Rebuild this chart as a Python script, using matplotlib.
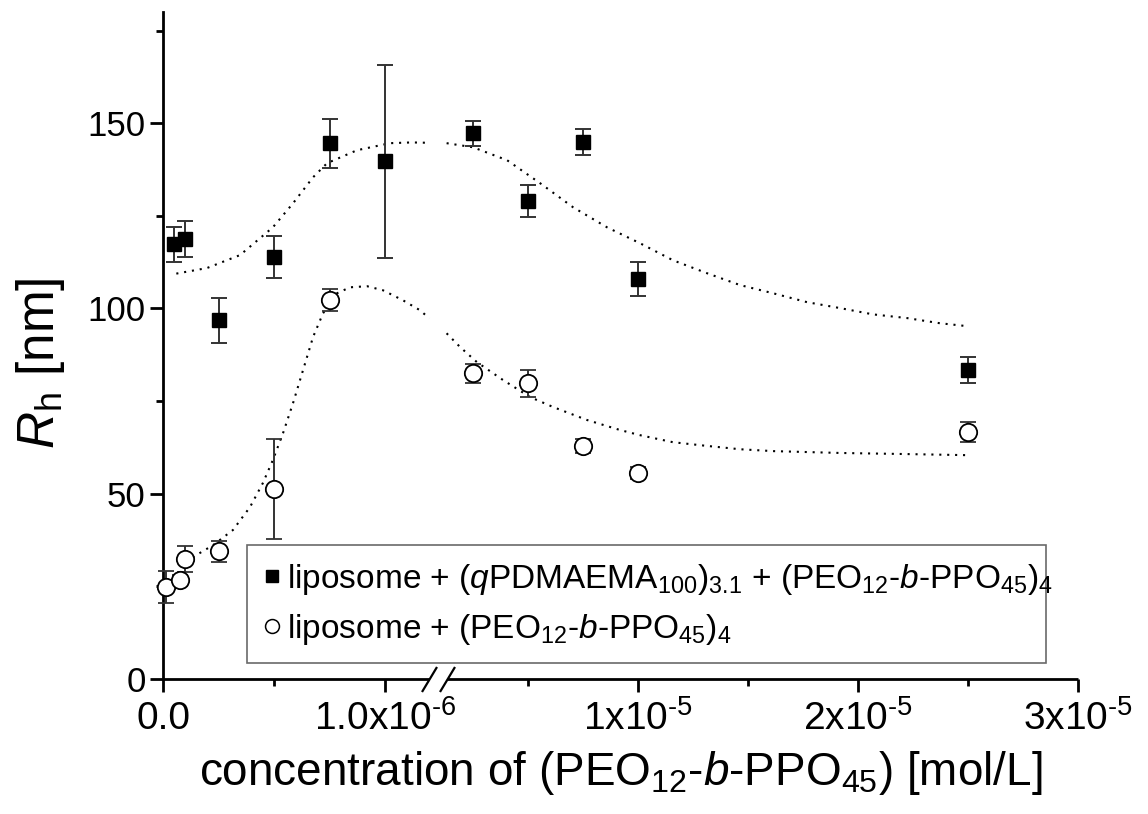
import numpy as np
import matplotlib
matplotlib.use("Agg")
import matplotlib.pyplot as plt
from matplotlib.lines import Line2D

plt.rcParams["font.family"] = ["Liberation Sans", "DejaVu Sans"]
plt.rcParams["mathtext.fontset"] = "custom"
plt.rcParams["mathtext.rm"] = "Liberation Sans"
plt.rcParams["mathtext.it"] = "Liberation Sans:italic"
plt.rcParams["mathtext.bf"] = "Liberation Sans:bold"

# liposome + (qPDMAEMA100)3.1 + (PEO12-b-PPO45)4
sq_x = [0.05e-6, 0.1e-6, 0.25e-6, 0.5e-6, 0.75e-6, 1.0e-6, 2.5e-6, 5e-6, 7.5e-6, 1e-5, 2.5e-5]
sq_y = [117.3, 118.7, 96.8, 113.8, 144.6, 139.7, 147.3, 128.9, 144.9, 107.9, 83.4]
sq_err = [4.7, 4.8, 6.0, 5.7, 6.6, 26.0, 3.4, 4.3, 3.6, 4.6, 3.4]

# liposome + (PEO12-b-PPO45)4
ci_x = [0.015e-6, 0.075e-6, 0.1e-6, 0.25e-6, 0.5e-6, 0.75e-6, 2.5e-6, 5e-6, 7.5e-6, 1e-5, 2.5e-5]
ci_y = [24.9, 26.7, 32.4, 34.5, 51.3, 102.2, 82.5, 79.8, 62.9, 55.6, 66.6]
ci_err = [4.3, 1.5, 3.4, 2.8, 13.5, 3.0, 2.5, 3.6, 1.8, 1.7, 2.7]

# dotted guide curves (left / right of the axis break)
fit_sq_x1 = [0.06e-6, 0.198e-6, 0.347e-6, 0.495e-6, 0.586e-6, 0.676e-6, 0.739e-6,
             0.874e-6, 1.023e-6, 1.12e-6, 1.2e-6]
fit_sq_y1 = [109.4, 110.9, 114.4, 121.9, 128.4, 135.4, 139.2, 142.7, 144.6, 144.8, 144.7]
fit_sq_x2 = [1.3e-6, 2.5e-6, 4.05e-6, 5.55e-6, 7.05e-6, 8.59e-6, 10.09e-6, 11.59e-6,
             13.14e-6, 14.64e-6, 16.14e-6, 17.68e-6, 19.18e-6, 20.68e-6, 22.23e-6,
             23.73e-6, 2.5e-5]
fit_sq_y2 = [144.6, 143.5, 140.0, 133.8, 127.3, 121.9, 117.6, 113.0, 109.5, 106.3,
             104.1, 101.7, 100.1, 98.4, 97.4, 96.0, 95.2]

fit_ci_x1 = [0.1e-6, 0.135e-6, 0.225e-6, 0.315e-6, 0.392e-6, 0.45e-6, 0.495e-6, 0.541e-6,
             0.586e-6, 0.631e-6, 0.676e-6, 0.721e-6, 0.784e-6, 0.842e-6, 0.919e-6,
             0.991e-6, 1.081e-6, 1.158e-6, 1.2e-6]
fit_ci_y1 = [32.1, 32.9, 36.1, 40.2, 46.4, 52.9, 59.1, 66.4, 74.5, 83.4, 92.3, 98.7,
             104.1, 105.7, 106.0, 104.9, 102.2, 99.5, 97.3]
fit_ci_x2 = [1.3e-6, 1.91e-6, 2.68e-6, 3.86e-6, 5.09e-6, 6.14e-6, 7.68e-6, 9.18e-6,
             10.09e-6, 11.59e-6, 13.14e-6, 14.64e-6, 16.14e-6, 19.18e-6, 22.23e-6, 2.5e-5]
fit_ci_y2 = [93.3, 89.6, 85.5, 80.7, 76.1, 73.4, 69.9, 67.2, 65.8, 63.9, 62.9, 62.0,
             61.5, 61.0, 60.7, 60.4]

x_ticks = [0, 1e-6, 1e-5, 2e-5, 3e-5]
x_tick_labels = ["0.0", "1.0x10$^{\\text{-6}}$", "1x10$^{\\text{-5}}$",
                 "2x10$^{\\text{-5}}$", "3x10$^{\\text{-5}}$"]
x_minor = [0.5e-6, 5e-6, 1.5e-5, 2.5e-5]

# broken x axis: 0..1.2e-6 linear, gap, 1.3e-6..3e-5 linear (different slope)
KNOT_V = [-1e-6, 0.0, 1.2e-6, 1.3e-6, 3e-5, 1e-4]
KNOT_F = [-222.0, 0.0, 266.4, 283.6, 915.0, 2455.0]


def fwd(v):
    return np.interp(v, KNOT_V, KNOT_F)


def inv(f):
    return np.interp(f, KNOT_F, KNOT_V)


fig = plt.figure(figsize=(11.48, 8.14), dpi=100)
ax = fig.add_axes([163 / 1148, 135 / 814, 915 / 1148, 667 / 814])
ax.set_xscale("function", functions=(fwd, inv))
ax.set_xlim(0, 3e-5)
ax.set_ylim(0, 180)

dots = (0, (1, 2.8))
for xs, ys in [(fit_sq_x1, fit_sq_y1), (fit_sq_x2, fit_sq_y2),
               (fit_ci_x1, fit_ci_y1), (fit_ci_x2, fit_ci_y2)]:
    ax.plot(xs, ys, color="k", lw=1.5, ls=dots)

ax.errorbar(sq_x, sq_y, yerr=sq_err, fmt="s", ms=10.5, mfc="k", mec="k",
            ecolor="#333333", elinewidth=1.4, capsize=6, capthick=1.4, zorder=3)
ax.errorbar(ci_x, ci_y, yerr=ci_err, fmt="o", ms=12.5, mfc="white", mec="k", mew=1.3,
            ecolor="#333333", elinewidth=1.4, capsize=6, capthick=1.4, zorder=3,
            clip_on=False)

# spines
for s in ["top", "right", "bottom"]:
    ax.spines[s].set_visible(False)
ax.spines["left"].set_linewidth(2)

xt = ax.get_xaxis_transform()
ax.plot([0, 1.2e-6], [0, 0], transform=xt, color="k", lw=2, clip_on=False,
        solid_capstyle="butt")
ax.plot([1.3e-6, 3e-5], [0, 0], transform=xt, color="k", lw=2, clip_on=False,
        solid_capstyle="butt")
ax.plot([1.2e-6, 1.3e-6], [0, 0], transform=xt, ls="none",
        marker=[(-0.6, -1), (0.6, 1)], ms=18, mew=1.6, color="k", clip_on=False)

ax.set_xticks(x_ticks)
ax.set_xticklabels(x_tick_labels)
ax.set_xticks(x_minor, minor=True)
ax.set_yticks([0, 50, 100, 150])
ax.set_yticks([25, 75, 125, 175], minor=True)
ax.tick_params(which="major", direction="out", length=9.5, width=2, labelsize=28, pad=6)
ax.tick_params(which="minor", direction="out", length=5, width=2)
ax.tick_params(axis="y", which="major", labelsize=25, pad=3)

ax.set_xlabel("concentration of (PEO$_{12}$-$b$-PPO$_{45}$) [mol/L]", fontsize=33, labelpad=8)
ax.set_ylabel("$R$$_\\mathrm{h}$ [nm]", fontsize=37)
ax.yaxis.set_label_coords(-0.105, 0.474)

handles = [
    Line2D([], [], ls="none", marker="s", ms=8.5, mfc="k", mec="k"),
    Line2D([], [], ls="none", marker="o", ms=10, mfc="white", mec="k", mew=1.1),
]
labels = [
    "liposome + ($q$PDMAEMA$_{100}$)$_{3.1}$ + (PEO$_{12}$-$b$-PPO$_{45}$)$_4$",
    "liposome + (PEO$_{12}$-$b$-PPO$_{45}$)$_4$",
]
leg = ax.legend(handles, labels, loc="upper left", bbox_to_anchor=(0.0918, 0.0255, 0.873, 0.1754),
                mode="expand", fontsize=24, frameon=True, fancybox=False,
                handlelength=0.5, handletextpad=0.2, borderpad=0.5, labelspacing=0.45,
                borderaxespad=0)
leg.get_frame().set_edgecolor("#444444")
leg.get_frame().set_linewidth(1.2)

fig.savefig("out.png", dpi=100)
